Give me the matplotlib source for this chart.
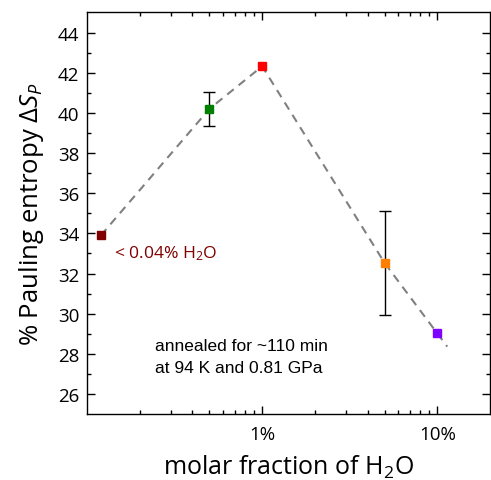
import numpy as np
import matplotlib
matplotlib.use('Agg')
import matplotlib.pyplot as plt
from matplotlib.ticker import FixedLocator, NullFormatter, FuncFormatter

# data
frac = [0.12, 0.5, 1.0, 5.0, 10.0]          # molar fraction of H2O in %
entropy = [33.9, 40.2, 42.32, 32.53, 29.02]  # % Pauling entropy
err = [0.0, 0.86, 0.0, 2.58, 0.0]
colors = ['#800000', '#008000', '#ff0000', '#ff8000', '#8000ff']

# dashed guide line (ends a little beyond the last point)
guide_x = [0.12, 0.5, 1.0, 5.0, 10.0, 11.4]
guide_y = [33.9, 40.2, 42.32, 32.53, 29.02, 28.36]

plt.rcParams['font.family'] = ['Open Sans', 'DejaVu Sans']
plt.rcParams['mathtext.fontset'] = 'custom'
plt.rcParams['mathtext.it'] = 'Open Sans:italic'
plt.rcParams['mathtext.rm'] = 'Open Sans'

fig = plt.figure(figsize=(4.91, 4.81), dpi=100)
ax = fig.add_axes([0.178, 0.137, 0.82, 0.835])

ax.plot(guide_x, guide_y, '--', color='#808080', lw=1.5, dashes=(4, 3), zorder=1)
for i in range(len(frac)):
    if err[i] > 0:
        ax.errorbar(frac[i], entropy[i], yerr=err[i], fmt='none', ecolor='k',
                    elinewidth=1.0, capsize=4, capthick=1.0, zorder=2)
    ax.plot(frac[i], entropy[i], 's', color=colors[i], ms=5.8, zorder=3)

ax.set_xscale('log')
ax.set_xlim(0.1005, 20)
ax.set_ylim(25, 45)
ax.xaxis.set_major_locator(FixedLocator([1, 10]))
ax.xaxis.set_minor_locator(FixedLocator([0.2, 0.3, 0.4, 0.5, 0.6, 0.7, 0.8, 0.9,
                                         2, 3, 4, 5, 6, 7, 8, 9]))
ax.xaxis.set_major_formatter(FuncFormatter(lambda v, p: '%d%%' % v))
ax.xaxis.set_minor_formatter(NullFormatter())
ax.set_yticks(np.arange(26, 45, 2))
ax.set_yticks(np.arange(27, 45, 2), minor=True)

ax.tick_params(which='both', direction='in', top=True, right=True, labelsize=13.5)
ax.tick_params(which='major', length=6, width=1.0)
ax.tick_params(which='minor', length=3, width=1.0)
ax.tick_params(axis='x', pad=8)
ax.tick_params(axis='y', pad=6)
for s in ax.spines.values():
    s.set_linewidth(1.0)

ax.set_xlabel('molar fraction of H$_2$O', fontsize=18, labelpad=7)
ax.set_ylabel('% Pauling entropy $\\mathit{\\Delta S_P}$', fontsize=18.5, labelpad=8)

ax.text(0.142, 33.02, '< 0.04% H$_2$O', color='#800000', fontsize=12.6, va='center')
ax.text(0.244, 28.8, 'annealed for ~110 min\nat 94 K and 0.81 GPa',
        family=['Liberation Sans', 'DejaVu Sans'], fontsize=12.5, va='top',
        linespacing=1.6)

fig.savefig('out.png', dpi=100)
